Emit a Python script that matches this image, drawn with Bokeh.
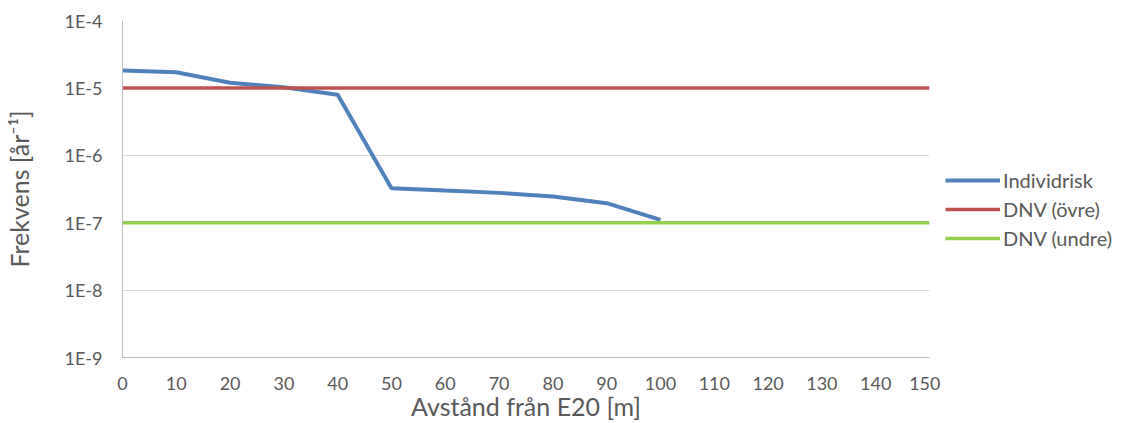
from bokeh.plotting import figure
from bokeh.layouts import row
from bokeh.models import FixedTicker, Legend, LegendItem, Range1d
from bokeh.embed import file_html
from bokeh.resources import INLINE

distance = [0, 10, 20, 30, 40, 50, 60, 70, 80, 90, 100]
individrisk = [1.81e-5, 1.71e-5, 1.19e-5, 1.02e-5, 7.9e-6, 3.25e-7, 3.0e-7, 2.77e-7, 2.45e-7, 1.95e-7, 1.10e-7]
dnv_x = [0, 150]
dnv_ovre = [1e-5, 1e-5]
dnv_undre = [1e-7, 1e-7]
x_ticks = list(range(0, 151, 10))
y_ticks = [1e-9, 1e-8, 1e-7, 1e-6, 1e-5, 1e-4]
y_tick_labels = ["1E-9", "1E-8", "1E-7", "1E-6", "1E-5", "1E-4"]
series_names = ["Individrisk", "DNV (övre)", "DNV (undre)"]
series_colors = ["#4F81BD", "#C0504D", "#92D050"]

FONT = "Lato"
TXT = "#595959"

p = figure(width=940, height=423, y_axis_type="log", output_backend="svg",
           toolbar_location=None, x_range=Range1d(0, 150), y_range=Range1d(1e-9, 1e-4),
           min_border_left=122, min_border_right=11, min_border_top=20, min_border_bottom=66)
p.outline_line_color = None

p.line(distance, individrisk, line_color=series_colors[0], line_width=4)
p.line(dnv_x, dnv_ovre, line_color=series_colors[1], line_width=3.5)
p.line(dnv_x, dnv_undre, line_color=series_colors[2], line_width=3.5)

p.xaxis.ticker = FixedTicker(ticks=x_ticks)
p.yaxis.ticker = FixedTicker(ticks=y_ticks, minor_ticks=[])
p.yaxis.major_label_overrides = {t: l for t, l in zip(y_ticks, y_tick_labels)}
for ax in (p.xaxis, p.yaxis):
    ax.major_tick_line_color = None
    ax.minor_tick_line_color = None
    ax.axis_line_color = "#BFBFBF"
    ax.major_label_text_font = FONT
    ax.major_label_text_font_size = "18px"
    ax.major_label_text_color = TXT
    ax.axis_label_text_font = FONT
    ax.axis_label_text_font_size = "25px"
    ax.axis_label_text_color = TXT
    ax.axis_label_text_font_style = "normal"
p.xaxis.major_label_standoff = 13
p.yaxis.major_label_standoff = 14
p.xaxis.axis_label = "Avstånd från E20 [m]"
p.yaxis.axis_label = "Frekvens [år⁻¹]"
p.xaxis.axis_label_standoff = -2
p.yaxis.axis_label_standoff = 28

p.xgrid.grid_line_color = None
p.ygrid.grid_line_color = "#D9D9D9"
p.ygrid.grid_line_width = 1
p.ygrid.ticker = FixedTicker(ticks=y_ticks, minor_ticks=[])

# Legend panel: same series drawn outside its visible range, only the legend shows
q = figure(width=187, height=423, y_axis_type="log", output_backend="svg",
           toolbar_location=None, x_range=Range1d(1000, 1001), y_range=Range1d(1e-9, 1e-4),
           min_border=0)
q.axis.visible = False
q.grid.visible = False
q.outline_line_color = None
l1 = q.line(distance, individrisk, line_color=series_colors[0], line_width=4)
l2 = q.line(dnv_x, dnv_ovre, line_color=series_colors[1], line_width=3.5)
l3 = q.line(dnv_x, dnv_undre, line_color=series_colors[2], line_width=3.5)

legend = Legend(items=[LegendItem(label=n, renderers=[r]) for n, r in zip(series_names, [l1, l2, l3])],
                location=(5, 107))
legend.label_text_font = FONT
legend.label_text_font_size = "20px"
legend.label_text_color = TXT
legend.glyph_width = 55
legend.label_standoff = 3
legend.spacing = 5
legend.padding = 0
legend.margin = 0
legend.border_line_color = None
legend.background_fill_alpha = 0
q.add_layout(legend)

layout = row(p, q, spacing=0)
open("out.html", "w").write(file_html(layout, INLINE))
